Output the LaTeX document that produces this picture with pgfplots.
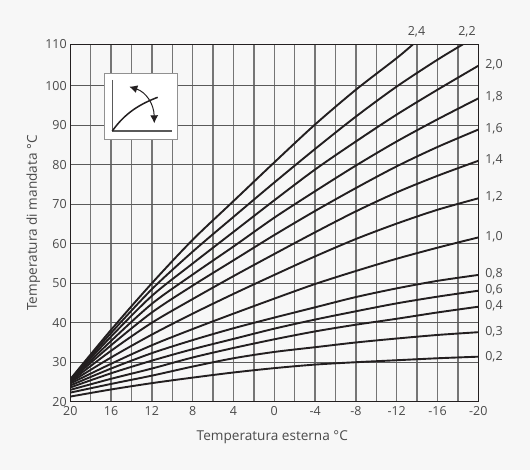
\documentclass[border=0pt]{standalone}
\usepackage{fontspec}
\setmainfont{Open Sans}
\usepackage{pgfplots}
\pgfplotsset{compat=1.18}
\usetikzlibrary{arrows.meta}
\definecolor{bg}{HTML}{F7F7F7}
\definecolor{ink}{HTML}{231F20}
\definecolor{txt}{HTML}{4A4A4A}
\definecolor{gridv}{HTML}{757575}
\definecolor{gridh}{HTML}{5A5A5A}
\pgfplotsset{curve/.style={color=ink, line width=1.9bp, smooth, tension=0.5, no markers, line join=round}}
\begin{document}
\begin{tikzpicture}
  % page background, in image pixels
  \begin{scope}[x=1bp,y=-1bp,shift={(-70.3bp,401.7bp)}]
    \fill[bg] (0,0) rectangle (530,470);
  \end{scope}
  \begin{axis}[
    scale only axis,
    width=408bp, height=357.4bp,
    anchor=south west, at={(0,0)},
    x dir=reverse,
    xmin=-20, xmax=20,
    ymin=20, ymax=110.5,
    xtick={-20,-16,-12,-8,-4,0,4,8,12,16,20},
    xticklabels={-20,-16,-12,-8,-4,0,4,8,12,16,20},
    minor xtick={-18,-14,-10,-6,-2,2,6,10,14,18},
    ytick={20,30,40,50,60,70,80,90,100,110.5},
    yticklabels={20,30,40,50,60,70,80,90,100,110},
    grid=both,
    major grid style={gridv, line width=1.5bp},
    minor grid style={gridv, line width=1.5bp},
    ymajorgrids=true,
    y grid style={gridh, line width=1.2bp},
    axis line style={ink, line width=1.4bp},
    tick style={draw=none},
    xticklabel style={font=\fontsize{12.5bp}{14bp}\selectfont, text=txt, yshift=-1bp},
    yticklabel style={font=\fontsize{12.5bp}{14bp}\selectfont, text=txt},
    xlabel={Temperatura esterna °C},
    ylabel={Temperatura di mandata °C},
    xlabel style={font=\fontsize{13.6bp}{15bp}\selectfont, text=txt, at={(axis description cs:0.5,0)}, anchor=center, yshift=-35.5bp, xshift=-2bp},
    ylabel style={font=\fontsize{13.6bp}{15bp}\selectfont, text=txt, at={(axis description cs:0,0.5)}, anchor=center, yshift=37bp},
  ]
    % 0,2
    \addplot[curve] coordinates {(20,21.3)(16,23.1)(12,24.7)(8,26.1)(4,27.4)(0,28.5)(-4,29.4)(-8,30)(-12,30.5)(-16,31)(-20,31.4)};
    % 0,3
    \addplot[curve] coordinates {(20,22.3)(16,24.5)(12,26.6)(8,28.9)(4,31)(0,32.6)(-4,33.8)(-8,35)(-12,36)(-16,36.9)(-20,37.6)};
    % 0,4
    \addplot[curve] coordinates {(20,23)(16,25.8)(12,28.4)(8,31.2)(4,33.6)(0,35.8)(-4,37.8)(-8,39.5)(-12,41)(-16,42.6)(-20,44.05)};
    % 0,6
    \addplot[curve] coordinates {(20,23.6)(16,27.2)(12,30.4)(8,33.3)(4,35.9)(0,38.5)(-4,40.8)(-8,42.9)(-12,44.9)(-16,46.6)(-20,48.1)};
    % 0,8
    \addplot[curve] coordinates {(20,24.1)(16,28.4)(12,32.3)(8,35.6)(4,38.6)(0,41.3)(-4,43.9)(-8,46.5)(-12,48.7)(-16,50.6)(-20,52.1)};
    % 1,0
    \addplot[curve] coordinates {(20,24.6)(16,29.6)(12,34.3)(8,38.4)(4,42.3)(0,46.1)(-4,49.8)(-8,53.1)(-12,56.2)(-16,59)(-20,61.6)};
    % 1,2
    \addplot[curve] coordinates {(20,24.9)(16,31.2)(12,37)(8,42.3)(4,47.3)(0,52.1)(-4,56.8)(-8,61.2)(-12,65.1)(-16,68.6)(-20,71.5)};
    % 1,4
    \addplot[curve] coordinates {(20,25.1)(16,32.9)(12,40)(8,46)(4,51.8)(0,57.4)(-4,62.9)(-8,68.2)(-12,73)(-16,77.2)(-20,81)};
    % 1,6
    \addplot[curve] coordinates {(20,25.3)(16,34.3)(12,42.6)(8,49.4)(4,55.8)(0,62.2)(-4,68.3)(-8,74.1)(-12,79.6)(-16,84.5)(-20,88.9)};
    % 1,8
    \addplot[curve] coordinates {(20,25.4)(16,35.4)(12,44.8)(8,52.2)(4,59.3)(0,66.6)(-4,73.3)(-8,79.8)(-12,85.9)(-16,91.5)(-20,96.8)};
    % 2,0
    \addplot[curve] coordinates {(20,25.5)(16,36.5)(12,46.8)(8,55)(4,63)(0,71)(-4,78.8)(-8,85.9)(-12,92.7)(-16,99)(-20,105.06)};
    % 2,2
    \addplot[curve] coordinates {(20,25.6)(16,37.4)(12,48.5)(8,58)(4,66.8)(0,75.5)(-4,84)(-8,92.2)(-12,99.8)(-16,106.6)(-18.5,110.5)};
    % 2,4
    \addplot[curve] coordinates {(20,25.7)(16,38.2)(12,50)(8,61)(4,70.8)(0,80.6)(-4,90.2)(-8,99)(-12,107)(-13.6,110.5)};
  \end{axis}
  % labels and the small icon, in image pixels
  \begin{scope}[x=1bp,y=-1bp,shift={(-70.3bp,401.7bp)}]
    \tikzset{lab/.style={font=\fontsize{12.5bp}{14bp}\selectfont, text=txt, inner sep=0pt}}
    \node[lab] at (416.5,32) {2,4};
    \node[lab] at (467,32) {2,2};
    \node[lab] at (494,65) {2,0};
    \node[lab] at (494,97) {1,8};
    \node[lab] at (494,129) {1,6};
    \node[lab] at (494,160) {1,4};
    \node[lab] at (494,197) {1,2};
    \node[lab] at (494,237) {1,0};
    \node[lab] at (494,274) {0,8};
    \node[lab] at (494,290) {0,6};
    \node[lab] at (494,306) {0,4};
    \node[lab] at (494,332) {0,3};
    \node[lab] at (494,357) {0,2};
    \filldraw[fill=white, draw=gridv!80, line width=1bp] (104.3,73.3) rectangle (177.7,139.5);
    \draw[gridh, line width=1.3bp] (112.3,80) -- (112.3,131) -- (171.7,131);
    \draw[ink, line width=1.5bp] (112.3,131) .. controls (125,113) and (140,104) .. (157.7,97.3);
    \draw[ink, line width=1bp, {Latex[length=8bp,width=8bp]}-{Latex[length=8bp,width=8bp]}] (129.3,86.7) .. controls (146,92) and (154,104) .. (154.3,123.3);
  \end{scope}
\end{tikzpicture}
\end{document}
